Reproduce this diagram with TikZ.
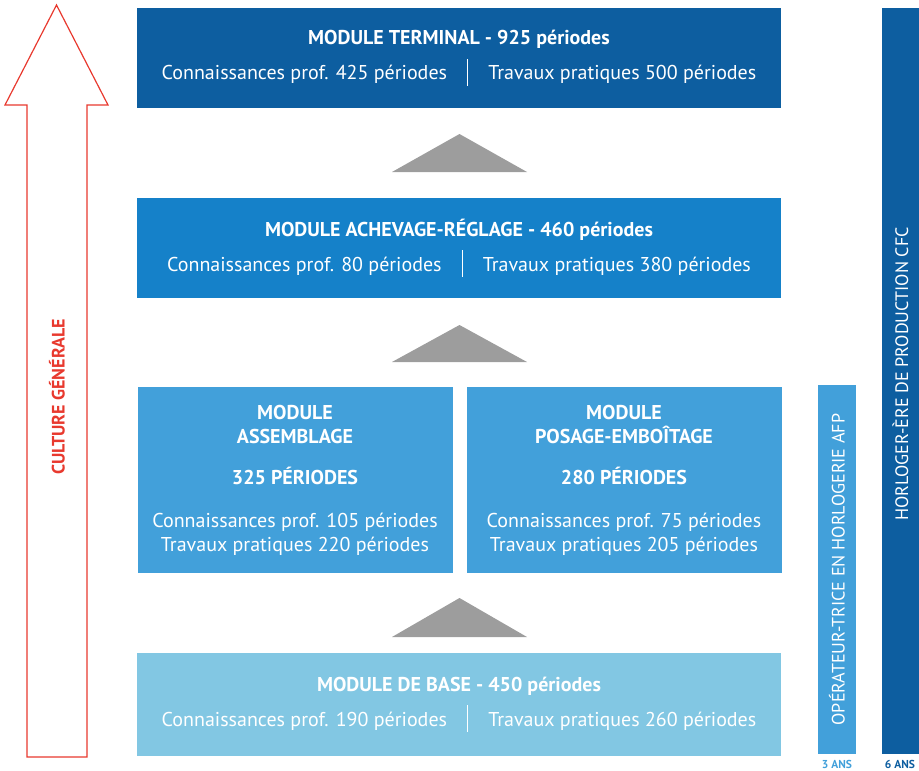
\documentclass[tikz,border=0pt]{standalone}
\usepackage{fontspec}
\setmainfont{PT Sans}
\usetikzlibrary{positioning}

\definecolor{termblue}{RGB}{13,94,160}
\definecolor{achblue}{RGB}{21,129,201}
\definecolor{midblue}{RGB}{66,160,218}
\definecolor{baseblue}{RGB}{130,199,227}
\definecolor{cultred}{RGB}{232,57,46}
\definecolor{trigray}{RGB}{157,157,157}

\newcommand{\sep}{\quad\rule[-0.3em]{1.2pt}{1.35em}\quad}

\begin{document}
\begin{tikzpicture}[x=1pt,y=-1pt,node distance=190pt,on grid,
  box/.style={fill=#1,text=white,minimum width=644pt,minimum height=100pt,
    inner sep=0pt,align=center,font=\fontsize{20}{24}\selectfont},
  half/.style={box=#1,minimum width=315pt,minimum height=186pt},
  bar/.style={fill=#1,text=white,rotate=90,inner sep=0pt,
    font=\fontsize{18}{20}\selectfont},
  yrs/.style={text=#1,font=\fontsize{11.5}{13}\selectfont\bfseries,inner sep=0pt}]
      \useasboundingbox (0,0) rectangle (919,771);
      % modules
      \node[box=termblue] (terminal) at (459,58)
        {\textbf{MODULE TERMINAL - 925 périodes}\\[9pt]
         Connaissances prof. 425 périodes\sep Travaux pratiques 500 périodes};
      \node[box=achblue] (achevage) [below=of terminal]
        {\textbf{MODULE ACHEVAGE-RÉGLAGE - 460 périodes}\\[9pt]
         Connaissances prof. 80 périodes\sep Travaux pratiques 380 périodes};
      \node[half=midblue] (assemblage) at (295,480)
        {\textbf{MODULE}\\\textbf{ASSEMBLAGE}\\[17pt]\textbf{325 PÉRIODES}\\[19pt]
         Connaissances prof. 105 périodes\\Travaux pratiques 220 périodes};
      \node[half=midblue] (posage) [right=329pt of assemblage]
        {\textbf{MODULE}\\\textbf{POSAGE-EMBOÎTAGE}\\[17pt]\textbf{280 PÉRIODES}\\[19pt]
         Connaissances prof. 75 périodes\\Travaux pratiques 205 périodes};
      \node[box=baseblue,minimum height=103pt] (base) at (459,704.5)
        {\textbf{MODULE DE BASE - 450 périodes}\\[9pt]
         Connaissances prof. 190 périodes\sep Travaux pratiques 260 périodes};
      % triangles
      \foreach \ya/\yb in {134/172, 325/362, 598/637}
        \fill[trigray] (459.5,\ya) -- (527,\yb) -- (392,\yb) -- cycle;
      % culture generale
      \draw[cultred,line width=1.2pt,line join=miter]
        (56.5,5) -- (108,105) -- (87,105) -- (87,757)
        -- (27,757) -- (27,105) -- (5,105) -- cycle;
      \node[rotate=90,text=cultred,font=\fontsize{18}{20}\selectfont\bfseries]
        (culture) at (57,397) {CULTURE GÉNÉRALE};
      % formations
      \node[bar=midblue,minimum width=369pt,minimum height=38pt] (afp) at (837,569.5)
        {OPÉRATEUR-TRICE EN HORLOGERIE AFP};
      \node[bar=termblue,minimum width=746pt,minimum height=37pt] (cfc) at (900.5,381)
        {\hspace{14pt}HORLOGER-ÈRE DE PRODUCTION CFC};
      \node[yrs=midblue] (afpyrs) at (837,764) {3 ANS};
      \node[yrs=termblue] (cfcyrs) at (900,764) {6 ANS};
\end{tikzpicture}
\end{document}
